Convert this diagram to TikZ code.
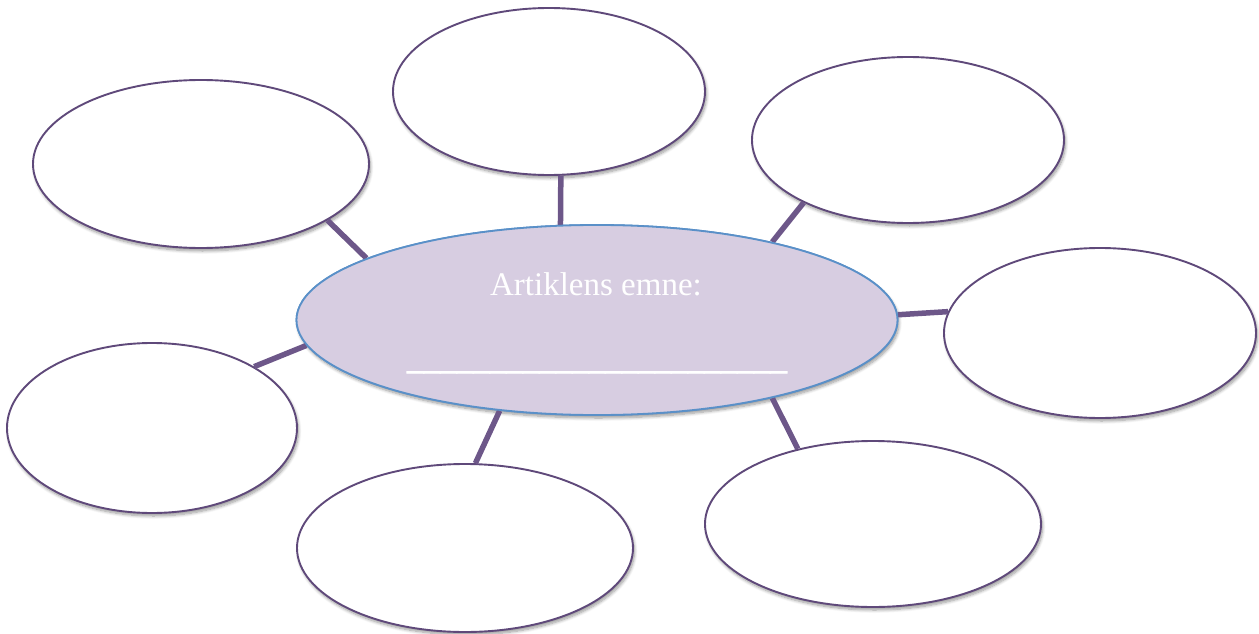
\documentclass[tikz,border=0pt]{standalone}
\usepackage{fontspec}
\setmainfont{Liberation Serif}
\newfontfamily\ulfont[FakeBold=3]{Liberation Serif}
\usetikzlibrary{shapes.geometric,shadows.blur}
\definecolor{outl}{HTML}{5F497A}
\definecolor{conn}{HTML}{6D5789}
\definecolor{cfill}{HTML}{D7CDE1}
\definecolor{cbord}{HTML}{5A90C8}
\tikzset{
  softshadow/.style={blur shadow={shadow xshift=1.5pt, shadow yshift=-3pt, shadow blur steps=7, shadow blur radius=3pt, shadow opacity=40}},
  bubble/.style={ellipse, draw=outl, line width=1.9pt, fill=white, inner sep=0pt, softshadow},
  hub/.style={ellipse, draw=cbord, line width=1.8pt, fill=cfill, inner sep=0pt},
  link/.style={draw=conn, line width=5.5pt},
  hubtext/.style={text=white, font=\fontsize{33}{36}\selectfont, inner sep=0pt}
}
\begin{document}
\begin{tikzpicture}[x=1pt,y=-1pt]
\useasboundingbox (0,0) rectangle (1259,634);
\node[hub, softshadow, minimum width=601pt, minimum height=190pt] (c) at (597,320) {};
\node[bubble, minimum width=312pt, minimum height=167pt] (t) at (549,91.5) {};
\node[bubble, minimum width=336pt, minimum height=168pt] (tl) at (201,164) {};
\node[bubble, minimum width=312pt, minimum height=166pt] (tr) at (908,140) {};
\node[bubble, minimum width=312pt, minimum height=170pt] (r) at (1100,333) {};
\node[bubble, minimum width=290pt, minimum height=170pt] (l) at (152,428) {};
\node[bubble, minimum width=336pt, minimum height=168pt] (bl) at (465,548) {};
\node[bubble, minimum width=336pt, minimum height=166pt] (br) at (873,524) {};
% connectors
\draw[link] (c.111.3) -- (t.-82.2);
\draw[link] (c.165.6) -- (tl.-24.9);
\draw[link] (c.24.3) -- (tr.-149.7);
\draw[link] (c.1.3) -- (r.172.6);
\draw[link] (c.185.3) -- (l.31);
\draw[link] (c.-137.1) -- (bl.83.9);
\draw[link] (c.-24.6) -- (br.135);
% hub redrawn over the connector ends
\node[hub, minimum width=601pt, minimum height=190pt] (hubtop) at (c) {};
\node[hubtext, anchor=base] (title) at (596,295) {Artiklens emne:};
\node[hubtext, anchor=base] (blank) at (597,369) {\ulfont\_\_\_\_\_\_\_\_\_\_\_\_\_\_\_\_\_\_\_\_\_\_\_};
\end{tikzpicture}
\end{document}
